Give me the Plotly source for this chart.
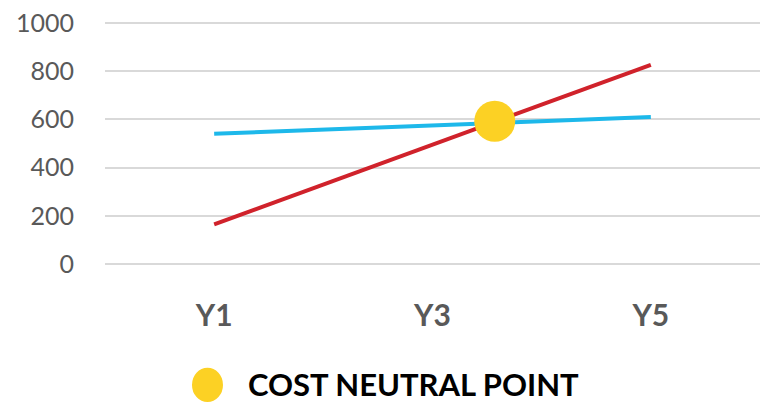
import plotly.graph_objects as go

year_pos = [1, 5]
blue_values = [540, 610]
red_values = [165, 826]
tick_labels = ["Y1", "Y3", "Y5"]
tick_pos = [1, 3, 5]
y_ticks = [0, 200, 400, 600, 800, 1000]
neutral_x = [3.57]
neutral_y = [592]
legend_label = "COST NEUTRAL POINT"

# plot area geometry (pixels): value 0 at y=264, 1000 at y=17
PAD = 24  # value padding so the edge gridlines are drawn
PX_PER = 247 / 1000
PL, PR = 105, 760
PT = 17 - PAD * PX_PER
PB = 264 + PAD * PX_PER
Y0, Y1 = -PAD, 1000 + PAD
W, H = 767, 407


def px_x(p):
    return (p - PL) / (PR - PL)


def px_y(p):
    return (PB - p) / (PB - PT)


fig = go.Figure()
fig.add_trace(go.Scatter(x=year_pos, y=blue_values, mode="lines",
                         line=dict(color="#1db8ea", width=4), showlegend=False))
fig.add_trace(go.Scatter(x=year_pos, y=red_values, mode="lines",
                         line=dict(color="#d0222b", width=4), showlegend=False))
fig.add_trace(go.Scatter(x=neutral_x, y=neutral_y, mode="markers",
                         marker=dict(color="#fcd124", size=41, line=dict(width=0)),
                         showlegend=False))

# legend
fig.add_shape(type="circle", xref="paper", yref="paper",
              x0=px_x(192), x1=px_x(223), y0=px_y(405), y1=px_y(370),
              fillcolor="#fcd124", line=dict(width=0))
fig.add_annotation(text=legend_label, xref="paper", yref="paper",
                   x=px_x(246), y=px_y(387),
                   xanchor="left", yanchor="middle", showarrow=False,
                   font=dict(family="Lato", size=31, color="#000000", weight="bold"))

fig.update_layout(
    width=W, height=H,
    margin=dict(l=PL, r=W - PR, t=PT, b=H - PB),
    paper_bgcolor="white", plot_bgcolor="white",
    xaxis=dict(range=[0, 6], tickvals=tick_pos, ticktext=tick_labels,
               showgrid=False, zeroline=False, showline=False, ticks="",
               ticklabelstandoff=25,
               tickfont=dict(family="Lato", size=30, color="#595959", weight="bold")),
    yaxis=dict(range=[Y0, Y1], tickvals=y_ticks,
               showgrid=True, gridcolor="#d9d9d9", gridwidth=2,
               zeroline=False, showline=False, ticks="", ticklabelstandoff=30,
               tickfont=dict(family="Lato", size=25, color="#595959")),
)

fig.write_html("out.html", config={"displayModeBar": False},
               post_script="document.body.style.margin='0';")
